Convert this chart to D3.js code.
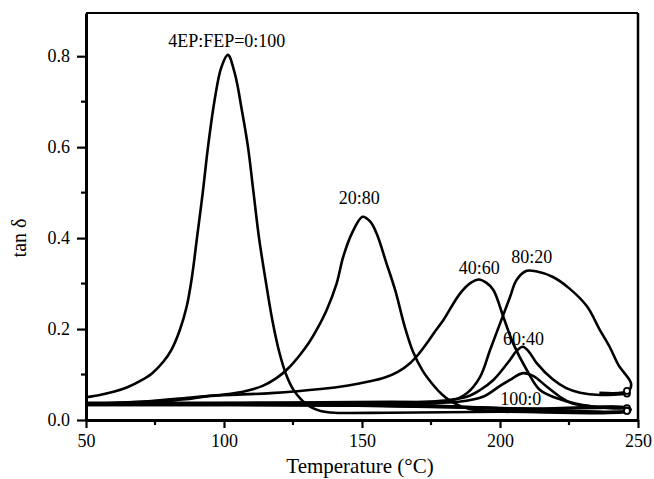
<!DOCTYPE html>
<html>
<head>
<meta charset="utf-8">
<script src="https://cdn.jsdelivr.net/npm/d3@7/dist/d3.min.js"></script>
<style>
  body { margin: 0; background: #fff; }
  svg text { font-family: "Liberation Serif", "DejaVu Serif", serif; fill: #000; }
</style>
</head>
<body>
<div id="chart"></div>
<script>
// tan delta vs temperature, 4EP:FEP blends
// each series: forward sweep, then the return trace back along the baseline
var s0_100 = [[50,0.050],[55,0.055],[60,0.062],[65,0.072],[70,0.087],[74,0.103],[78,0.128],[81,0.155],[84,0.198],
  [86.5,0.250],[88.4,0.315],[90.2,0.400],[92.3,0.500],[94.2,0.600],[96.5,0.700],[99,0.775],[101.4,0.803],[104,0.760],
  [106.5,0.680],[108.7,0.600],[110.7,0.500],[112.7,0.400],[115,0.310],[117.5,0.220],[120,0.150],[122.5,0.100],
  [125,0.068],[128,0.045],[131,0.030],[135,0.020],[140,0.016],[160,0.016],[200,0.018],[247,0.020],
  [247,0.024],[215,0.024],[180,0.028],[120,0.034],[50,0.036]];
var s20_80 = [[50,0.036],[70,0.040],[89,0.050],[100,0.056],[108,0.064],[114,0.075],[119,0.092],[123.5,0.115],
  [127.5,0.143],[131,0.172],[134,0.203],[137.2,0.242],[140.8,0.300],[143.2,0.359],[146.3,0.410],[150.2,0.447],
  [153,0.436],[155.3,0.410],[158.9,0.344],[162,0.286],[165.5,0.205],[168.5,0.150],[172,0.108],[175.8,0.077],
  [179,0.056],[182,0.042],[186,0.030],[190,0.023],[200,0.020],[247,0.022],
  [247,0.026],[210,0.025],[170,0.031],[50,0.033]];
var s40_60 = [[50,0.036],[85,0.045],[95,0.053],[117,0.059],[135,0.068],[145,0.076],[152,0.084],[158,0.093],
  [163,0.106],[167.4,0.125],[170.5,0.145],[173.4,0.168],[176.5,0.195],[179.5,0.220],[185.5,0.278],[189.5,0.302],
  [192.4,0.309],[195,0.302],[197.6,0.286],[201.2,0.227],[204.8,0.168],[209.7,0.110],[214.5,0.066],[222,0.045],
  [230,0.033],[240,0.026],[247,0.024],
  [247,0.021],[215,0.022],[160,0.035],[50,0.038]];
var s60_40 = [[50,0.034],[150,0.038],[180,0.043],[188,0.051],[192.8,0.066],[197.6,0.088],[203.6,0.132],
  [206,0.152],[208.3,0.161],[210.5,0.150],[213.3,0.125],[219,0.090],[224,0.070],[229,0.060],[236.2,0.055],[247,0.058]];
var s80_20 = [[50,0.035],[160,0.040],[181.9,0.042],[188,0.059],[192.8,0.095],[196.4,0.154],[200,0.212],[203.6,0.270],
  [206,0.308],[209.7,0.328],[213,0.327],[219,0.315],[225,0.290],[231.5,0.250],[236,0.200],[239.8,0.160],[243,0.120],
  [247.5,0.080],[246.5,0.064],[236,0.060]];
var s100_0 = [[50,0.033],[150,0.035],[185,0.040],[193.8,0.051],[200,0.075],[203.6,0.088],[208.3,0.103],[212,0.097],
  [217,0.073],[222,0.050],[226,0.037],[232.6,0.030],[247,0.025],
  [247,0.020],[200,0.026],[150,0.032],[50,0.034]];

var seriesData = [s0_100, s20_80, s40_60, s60_40, s80_20, s100_0];
var labelText = ["4EP:FEP=0:100", "20:80", "40:60", "60:40", "80:20", "100:0"];
var labelAt = [[101, 0.820], [149, 0.476], [192.5, 0.320], [208.5, 0.165], [211.5, 0.346], [207.5, 0.033]];
var xTicks = [50, 100, 150, 200, 250];
var xMinor = [75, 125, 175, 225];
var yTicks = [0.0, 0.2, 0.4, 0.6, 0.8];
var yMinor = [0.1, 0.3, 0.5, 0.7];

var W = 654, H = 479;
var svg = d3.select("#chart").append("svg").attr("width", W).attr("height", H);

var x = d3.scaleLinear().domain([50, 250]).range([86, 638]);
var y = d3.scaleLinear().domain([0, 0.895]).range([420, 13]);

// frame top/right
svg.append("line").attr("x1", 86).attr("x2", 638).attr("y1", 13).attr("y2", 13)
  .attr("stroke", "#000").attr("stroke-width", 2);
svg.append("line").attr("x1", 638).attr("x2", 638).attr("y1", 13).attr("y2", 420)
  .attr("stroke", "#000").attr("stroke-width", 2.5);

// curves
var line = d3.line().x(function(d){ return x(d[0]); }).y(function(d){ return y(d[1]); })
  .curve(d3.curveCatmullRom.alpha(0.5));
svg.selectAll("path.curve").data(seriesData).enter().append("path")
  .attr("class", "curve")
  .attr("d", line)
  .attr("fill", "none").attr("stroke", "#000").attr("stroke-width", 2.6)
  .attr("stroke-linejoin", "round");

// small end markers, at the last point of each series that sits at the right end
function endPt(d) { return d.filter(function(q){ return q[0] >= 246; }).pop(); }
svg.selectAll("circle.end").data(seriesData).enter().append("circle")
  .attr("cx", function(d){ return x(Math.min(endPt(d)[0], 246)); })
  .attr("cy", function(d){ return y(endPt(d)[1]); })
  .attr("r", 3).attr("fill", "#fff").attr("stroke", "#000").attr("stroke-width", 1.8);

// axes
var xAxis = svg.append("g").attr("transform", "translate(0,420)")
  .call(d3.axisBottom(x).tickValues(xTicks).tickSize(8).tickPadding(6).tickSizeOuter(0).tickFormat(d3.format("d")));
var yAxis = svg.append("g").attr("transform", "translate(86,0)")
  .call(d3.axisLeft(y).tickValues(yTicks).tickSize(9).tickPadding(7).tickSizeOuter(0).tickFormat(d3.format(".1f")));
[xAxis, yAxis].forEach(function(g){
  g.attr("font-family", "Liberation Serif").attr("font-size", 18);
  g.select(".domain").attr("stroke-width", 3);
  g.selectAll(".tick line").attr("stroke-width", 2.2);
  g.selectAll("text").style("font-size", "18px").style("font-family", "'Liberation Serif', serif");
});
xAxis.selectAll(".tick.minor").data(xMinor).enter().append("line")
  .attr("x1", function(d){ return x(d); }).attr("x2", function(d){ return x(d); })
  .attr("y1", 0).attr("y2", 5).attr("stroke", "#000").attr("stroke-width", 2.2);
yAxis.selectAll(".tick.minor").data(yMinor).enter().append("line")
  .attr("y1", function(d){ return y(d); }).attr("y2", function(d){ return y(d); })
  .attr("x1", 0).attr("x2", -5).attr("stroke", "#000").attr("stroke-width", 2.2);

// curve labels
svg.selectAll("text.lab").data(labelText).enter().append("text")
  .attr("class", "lab")
  .attr("x", function(d, i){ return x(labelAt[i][0]); })
  .attr("y", function(d, i){ return y(labelAt[i][1]); })
  .attr("text-anchor", "middle")
  .style("font-size", "18px")
  .text(function(d){ return d; });

// axis titles
svg.append("text").attr("x", 360).attr("y", 473).attr("text-anchor", "middle")
  .style("font-size", "21px").text("Temperature (°C)");
svg.append("text").attr("transform", "translate(26,238) rotate(-90)").attr("text-anchor", "middle")
  .style("font-size", "20px").text("tan δ");
</script>
</body>
</html>
